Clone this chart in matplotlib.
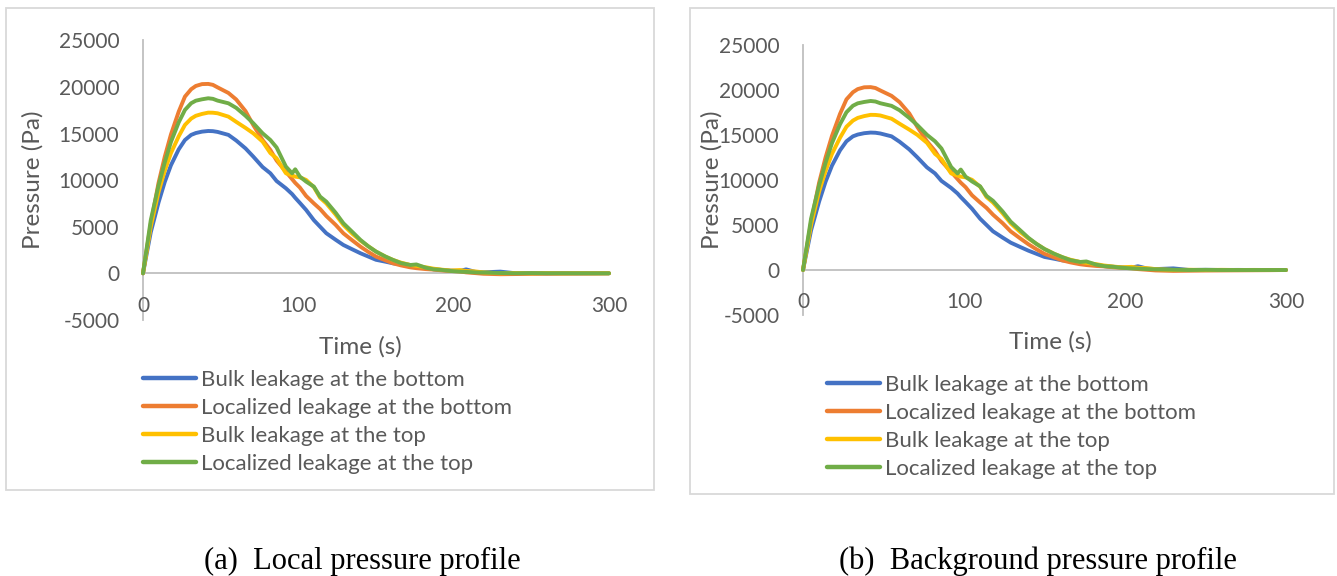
import matplotlib
matplotlib.use("Agg")
import matplotlib.pyplot as plt
from matplotlib.patches import Rectangle

# ---------------- data ----------------
time_s = [0, 5, 10, 14, 18, 23, 27, 31, 34, 38, 42, 45,
          48, 55, 60, 66, 71, 77, 82, 86, 92, 96,
          98, 101, 105, 110, 114, 118, 124, 129, 135, 140,
          145, 150, 156, 161, 166, 172, 176, 182, 187, 193,
          198, 204, 208, 214, 219, 230, 240, 250, 260, 270,
          280, 290, 300]

bulk_bottom = [0, 4400, 7600, 9800, 11600, 13300, 14300, 14850, 15050, 15200, 15270, 15250,
               15170, 14850, 14250, 13400, 12520, 11400, 10730, 9900, 9120, 8500,
               8100, 7550, 6800, 5700, 5000, 4300, 3600, 3040, 2550, 2150,
               1800, 1450, 1250, 1070, 980, 890, 700, 550, 430, 350,
               290, 250, 420, 150, 100, 180, 0, 20, 0, 10,
               0, 0, 0]

localized_bottom = [0, 5300, 9700, 12500, 14900, 17350, 18960, 19750, 20100, 20300, 20320, 20220,
                    19950, 19350, 18650, 17400, 15900, 14300, 13230, 12100, 10900, 10100,
                    9700, 9200, 8300, 7500, 6900, 6150, 5200, 4290, 3500, 2860,
                    2300, 1790, 1400, 1070, 850, 640, 550, 450, 400, 300,
                    250, 200, 100, 20, -50, -100, -80, -60, -50, -40,
                    -30, -20, 0]

bulk_top = [0, 5000, 8700, 11000, 12900, 14700, 15920, 16600, 16900, 17100, 17240, 17230,
            17170, 16810, 16250, 15600, 15020, 14130, 12900, 12340, 10730, 10500,
            10370, 10300, 10020, 9250, 8100, 7500, 6300, 5190, 4200, 3500,
            2900, 2330, 1800, 1430, 1150, 900, 800, 650, 500, 380,
            300, 350, 250, 200, 100, 0, 30, 0, 20, 0,
            10, 0, 0]

localized_top = [0, 5700, 9400, 11900, 14100, 16200, 17530, 18250, 18520, 18670, 18780, 18720,
                 18530, 18240, 17750, 16900, 16100, 15020, 14300, 13500, 11450, 10730,
                 11160, 10370, 9840, 9300, 8230, 7690, 6500, 5370, 4400, 3580,
                 2900, 2330, 1800, 1430, 1100, 890, 950, 600, 430, 350,
                 250, 180, 150, 100, 80, 30, 0, 20, 0, 0,
                 0, 0, 0]

series_labels = ["Bulk leakage at the bottom", "Localized leakage at the bottom",
                 "Bulk leakage at the top", "Localized leakage at the top"]
series_colors = ["#4472C4", "#ED7D31", "#FFC000", "#70AD47"]
x_ticks = [0, 100, 200, 300]
y_ticks = [-5000, 0, 5000, 10000, 15000, 20000, 25000]
captions = ["(a)  Local pressure profile", "(b)  Background pressure profile"]

# ---------------- layout ----------------
W, H = 1337, 576
fig = plt.figure(figsize=(W / 100, H / 100), dpi=100)
fig.patch.set_facecolor("white")

def fx(px):
    return px / W

def fy(py):
    return 1 - py / H

TXT = "#595959"
AXC = "#bfbfbf"
FONT = "Lato"

panels = [
    dict(box=(6, 8, 654, 490), ax=(143, 40.3, 609, 319.9), ylab_x=33, xlab=(360, 347),
         leg=(143, 370), cap=(362, 561)),
    dict(box=(690, 8, 1334, 494), ax=(803, 45, 1286, 315), ylab_x=712, xlab=(1050, 341.7),
         leg=(827, 375), cap=(1038, 561)),
]

all_series = [bulk_bottom, localized_bottom, bulk_top, localized_top]

for p, cap in zip(panels, captions):
    x0, y0, x1, y1 = p["box"]
    fig.add_artist(Rectangle((fx(x0), fy(y1)), (x1 - x0) / W, (y1 - y0) / H,
                             transform=fig.transFigure, fill=False,
                             edgecolor="#d9d9d9", linewidth=1.3))
    l, t, r, b = p["ax"]
    ax = fig.add_axes([fx(l), fy(b), (r - l) / W, (b - t) / H])
    ax.patch.set_alpha(0)
    for vals, col, lab in zip(all_series, series_colors, series_labels):
        ax.plot(time_s, vals, color=col, linewidth=2.8, label=lab,
                solid_joinstyle="round", solid_capstyle="round", clip_on=False)
    ax.set_xlim(0, 300)
    ax.set_ylim(-5000, 25000)
    ax.set_xticks(x_ticks)
    ax.set_yticks(y_ticks)
    ax.set_yticklabels([str(v) for v in y_ticks])
    for s in ("top", "right"):
        ax.spines[s].set_visible(False)
    ax.spines["left"].set_color(AXC)
    ax.spines["left"].set_linewidth(1.3)
    ax.spines["bottom"].set_color(AXC)
    ax.spines["bottom"].set_linewidth(1.3)
    ax.spines["bottom"].set_position(("data", 0))
    ax.spines["left"].set_zorder(0.5)
    ax.spines["bottom"].set_zorder(0.5)
    ax.tick_params(axis="both", length=0, labelcolor=TXT, labelsize=15)
    ax.tick_params(axis="y", pad=17)
    ax.tick_params(axis="x", pad=16)
    for lbl in ax.get_xticklabels() + ax.get_yticklabels():
        lbl.set_fontfamily(FONT)

    ax.set_ylabel("Pressure (Pa)", fontsize=17.5, color=TXT, fontfamily=FONT)
    ax.yaxis.set_label_coords((p["ylab_x"] - l) / (r - l), 0.5)
    ax.yaxis.label.set_va("center")
    ax.set_xlabel("Time (s)", fontsize=17.5, color=TXT, fontfamily=FONT)
    xlx, xly = p["xlab"]
    ax.xaxis.set_label_coords((xlx - l) / (r - l), (b - xly) / (b - t))
    ax.xaxis.label.set_va("center")

    lx, ly = p["leg"]
    leg = ax.legend(loc="upper left", bbox_to_anchor=(fx(lx), fy(ly)),
                    bbox_transform=fig.transFigure, frameon=False,
                    borderpad=0, borderaxespad=0, handlelength=2.39,
                    handletextpad=0.23, labelspacing=0.36,
                    prop={"family": FONT, "size": 16})
    for txt in leg.get_texts():
        txt.set_color(TXT)
    for h in leg.legend_handles:
        h.set_linewidth(3.2)

    cx, cy = p["cap"]
    fig.text(fx(cx), fy(cy), cap, ha="center", va="center",
             fontfamily="Liberation Serif", fontsize=22, color="black")

fig.savefig("out.png", dpi=100, facecolor="white")
